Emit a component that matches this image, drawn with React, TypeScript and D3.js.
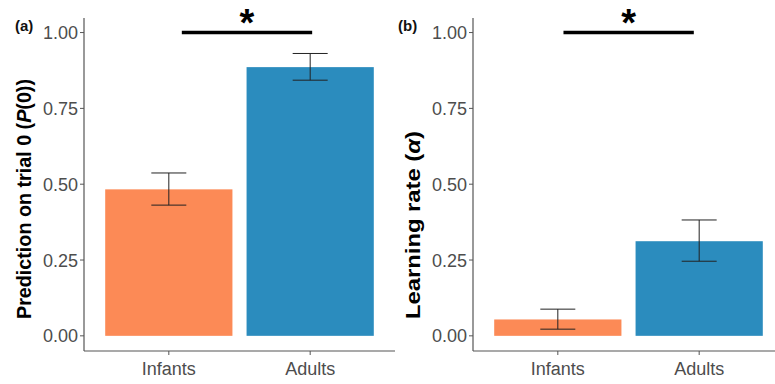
import React from 'react';
import { scaleLinear, scaleBand } from 'd3';

// groups on the x axis
const groups = ['Infants', 'Adults'];
const yTicks = [0, 0.25, 0.5, 0.75, 1];
const barColors = ['#FC8A56', '#2B8CBE'];

/* panel (a) prediction on trial 0 */
const predMean = [0.483, 0.886];
const predLow = [0.431, 0.843];
const predHigh = [0.537, 0.931];
const predSig = [1.092, 2.014];

/* panel (b) learning rate */
const rateMean = [0.054, 0.312];
const rateLow = [0.022, 0.246];
const rateHigh = [0.088, 0.382];
const rateSig = [1.04, 1.962];

// significance bracket height
const sigLevel = 1.0;

const font = '"Liberation Sans", Arial, Helvetica, sans-serif';

type PanelProps = {
    left: number;
    tag: string;
    tagX: number;
    title: React.ReactNode;
    titleLen: number;
    mean: number[];
    low: number[];
    high: number[];
    sig: number[];
};

const Panel = ({ left, tag, tagX, title, titleLen, mean, low, high, sig }: PanelProps) => {
    const top = 18;
    const bottom = 351;
    const x0 = left;
    const x1 = left + 311;
    /* discrete axis, ggplot style expansion */
    const xScale = scaleBand().domain(groups).range([x0, x1]).paddingInner(0.1).paddingOuter(0.15);
    const xPos = scaleLinear().domain([0.4, 2.6]).range([x0, x1]);
    const cx = (g: string) => (xScale(g) as number) + xScale.bandwidth() / 2;
    const yScale = scaleLinear().domain([-0.05, 1.048]).range([bottom, top]);
    const whisker = 35;
    const sx0 = xPos(sig[0]);
    const sx1 = xPos(sig[1]);

    return (
        <g>
            <text x={tagX} y={31} fontFamily={font} fontWeight="bold" fontSize={15} fill="#111">{tag}</text>
            {groups.map((g, i) => (
                <rect key={g} x={xScale(g)} y={yScale(mean[i])} width={xScale.bandwidth()}
                    height={yScale(0) - yScale(mean[i])} fill={barColors[i]} />
            ))}
            {groups.map((g, i) => (
                <g key={'e' + g} stroke="#222" strokeWidth={1}>
                    <line x1={cx(g)} x2={cx(g)} y1={yScale(low[i])} y2={yScale(high[i])} />
                    <line x1={cx(g) - whisker / 2} x2={cx(g) + whisker / 2} y1={yScale(high[i])} y2={yScale(high[i])} />
                    <line x1={cx(g) - whisker / 2} x2={cx(g) + whisker / 2} y1={yScale(low[i])} y2={yScale(low[i])} />
                </g>
            ))}
            {/* significance bar */}
            <line x1={sx0} x2={sx1} y1={yScale(sigLevel)} y2={yScale(sigLevel)} stroke="#000" strokeWidth={3.5} />
            <text x={(sx0 + sx1) / 2} y={yScale(sigLevel) + 3} textAnchor="middle" fontFamily={font}
                fontWeight="bold" fontSize={38} fill="#000">*</text>
            {/* axes */}
            <line x1={x0} x2={x0} y1={top} y2={bottom} stroke="#555" strokeWidth={1.2} />
            <line x1={x0} x2={x1} y1={bottom} y2={bottom} stroke="#555" strokeWidth={1.2} />
            {yTicks.map(t => (
                <g key={t}>
                    <line x1={x0 - 4} x2={x0} y1={yScale(t)} y2={yScale(t)} stroke="#555" />
                    <text x={x0 - 6} y={yScale(t) + 6.5} textAnchor="end" fontFamily={font} fontSize={18} fill="#4d4d4d">
                        {t.toFixed(2)}
                    </text>
                </g>
            ))}
            {groups.map(g => (
                <g key={'t' + g}>
                    <line x1={cx(g)} x2={cx(g)} y1={bottom} y2={bottom + 4} stroke="#555" />
                    <text x={cx(g)} y={bottom + 24} textAnchor="middle" fontFamily={font} fontSize={18} fill="#4d4d4d">{g}</text>
                </g>
            ))}
            <text transform={`translate(${left - 53},319) rotate(-90)`} textAnchor="start" textLength={titleLen}
                lengthAdjust="spacingAndGlyphs" fontFamily={font} fontWeight="bold" fontSize={20} fill="#000">{title}</text>
        </g>
    );
};

const App = () => {
    return (
        <svg width={775} height={384} style={{ position: 'absolute', left: 0, top: 0, background: '#fff' }}>
            <rect width={775} height={384} fill="#fff" />
            <Panel left={84} tag="(a)" tagX={15} title={<>Prediction on trial 0 (<tspan fontStyle="italic">P</tspan>(0))</>}
                titleLen={240} mean={predMean} low={predLow} high={predHigh} sig={predSig} />
            <Panel left={473} tag="(b)" tagX={398} title={<>Learning rate (<tspan fontStyle="italic">α</tspan>)</>}
                titleLen={188} mean={rateMean} low={rateLow} high={rateHigh} sig={rateSig} />
        </svg>
    );
};

export default App;
